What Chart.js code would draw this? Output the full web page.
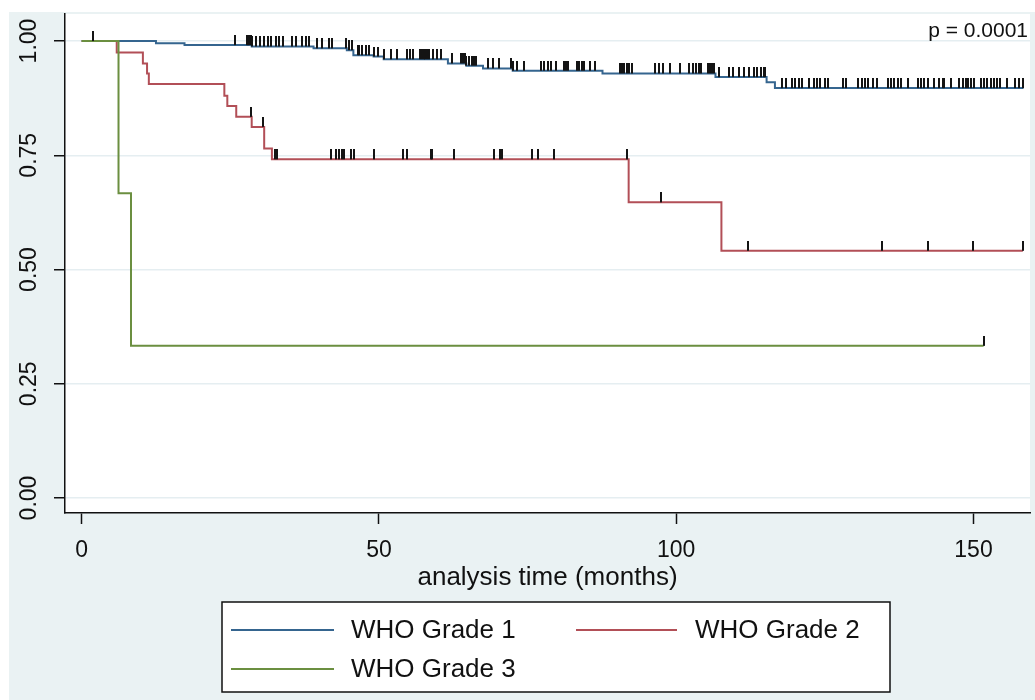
<!DOCTYPE html>
<html>
<head>
<meta charset="utf-8">
<title>Kaplan-Meier survival by WHO grade</title>
<script src="https://cdn.jsdelivr.net/npm/chart.js@4.4.1/dist/chart.umd.min.js"></script>
<style>
  html, body { margin: 0; padding: 0; background: #ffffff; }
  #wrap { width: 1035px; height: 700px; position: relative; }
</style>
</head>
<body>
<div id="wrap"><canvas id="km" width="1035" height="700"></canvas></div>
<script>
// ---- data ----------------------------------------------------------------
const groupLabels = ['WHO Grade 1', 'WHO Grade 2', 'WHO Grade 3'];
const xTicks = [0, 50, 100, 150];
const yTicks = [0, 0.25, 0.5, 0.75, 1];
const yTickLabels = ['0.00', '0.25', '0.50', '0.75', '1.00'];
const pValueText = 'p = 0.0001';
const xTitle = 'analysis time (months)';

// Kaplan-Meier step points: time (months) and survival after the step
const g1Time = [0, 12.5, 17.3, 28.6, 39.0, 44.6, 45.7, 49.1, 50.8, 61.6, 64.7, 67.5, 72.5, 87.6, 106.6, 115.2, 116.6, 158.4];
const g1Surv = [1.0, 0.995, 0.991, 0.988, 0.984, 0.980, 0.969, 0.966, 0.960, 0.951, 0.946, 0.940, 0.935, 0.929, 0.921, 0.910, 0.897, 0.897];

const g2Time = [0, 5.9, 10.3, 11.0, 11.3, 24.0, 24.5, 26.0, 28.6, 30.7, 32.0, 92.0, 107.6, 158.3];
const g2Surv = [1.0, 0.975, 0.951, 0.929, 0.906, 0.880, 0.858, 0.834, 0.812, 0.765, 0.741, 0.647, 0.541, 0.541];

const g3Time = [0, 6.2, 8.3, 151.7];
const g3Surv = [1.0, 0.667, 0.333, 0.333];

// censored observations (months)
const g1Censor = [1.9, 25.8, 27.8, 28.0, 28.2, 28.4, 28.6, 29.4, 30.0, 30.7, 31.3, 31.9, 32.7, 33.2, 33.8,
  35.4, 36.0, 37.1, 37.7, 38.2, 39.6, 40.5, 41.6, 42.1, 44.4, 44.9, 45.4, 46.4, 46.7, 47.1, 47.9, 48.4,
  49.1, 49.9, 50.8, 52.1, 53.0, 54.8, 55.2, 55.8, 56.9, 57.2, 57.5, 57.8, 58.0, 58.5, 59.1, 59.7, 60.5,
  62.3, 63.8, 64.1, 64.4, 64.7, 65.2, 65.6, 66.0, 66.4, 68.3, 69.1, 70.2, 72.2, 72.6, 73.3, 74.4, 77.2,
  77.7, 78.4, 78.9, 79.7, 81.1, 81.4, 81.8, 83.3, 83.7, 84.1, 84.5, 85.5, 86.4, 90.5, 90.9, 91.3, 91.7,
  92.1, 92.5, 96.5, 97.1, 97.8, 98.9, 100.7, 102.2, 102.8, 103.4, 103.8, 104.2, 105.3, 105.6, 106.0,
  106.3, 107.2, 108.9, 109.5, 110.6, 111.4, 112.2, 113.1, 113.6, 114.2, 114.7, 115.0, 117.8, 118.4,
  119.5, 120.0, 120.6, 121.1, 122.3, 123.1, 123.6, 124.2, 125.0, 125.6, 128.1, 128.5, 130.6, 131.2,
  131.7, 132.3, 133.1, 133.7, 135.6, 136.2, 136.7, 137.3, 137.8, 138.9, 140.6, 141.2, 141.7, 142.3,
  143.4, 144.2, 144.8, 145.1, 146.2, 147.6, 148.2, 148.7, 149.0, 149.5, 150.1, 151.2, 151.8, 152.3,
  152.9, 153.4, 154.0, 154.5, 155.6, 157.0, 157.6, 158.4];
const g2Censor = [28.4, 30.5, 32.5, 32.8, 41.9, 42.8, 43.3, 43.8, 44.2, 45.3, 45.8, 49.2, 54.0, 54.8,
  58.7, 58.9, 62.7, 69.3, 70.4, 70.7, 75.8, 76.7, 79.5, 91.7, 97.4, 112.1, 134.6, 142.4, 149.9, 158.3];
const g3Censor = [151.7];

// ---- helpers -------------------------------------------------------------
function levelAt(times, surv, t) {
  let s = surv[0];
  for (let i = 0; i < times.length; i++) { if (times[i] <= t) s = surv[i]; }
  return s;
}
const stepPoints = (times, surv) => times.map((t, i) => ({ x: t, y: surv[i] }));
const censorPoints = (c, times, surv) => c.map(t => ({ x: t, y: levelAt(times, surv, t) }));

// small vertical censor mark that rises above the curve
const tickMark = (() => {
  const c = document.createElement('canvas');
  c.width = 2; c.height = 20;
  const g = c.getContext('2d');
  g.fillStyle = '#141414';
  g.fillRect(0, 0, 2, 10);
  return c;
})();

const colors = ['#35658f', '#b24f57', '#6b8f40'];
const FONT = '"Liberation Sans", Arial, Helvetica, sans-serif';

// ---- plugins: background panels, rotated y labels, p-value, legend --------
const frame = {
  id: 'frame',
  beforeDraw(chart) {
    const { ctx, chartArea: a, width, height } = chart;
    ctx.save();
    ctx.fillStyle = '#ffffff';
    ctx.fillRect(0, 0, width, height);
    ctx.fillStyle = '#eaf2f3';
    ctx.fillRect(9, 12, width - 9, height - 12);
    ctx.fillStyle = '#ffffff';
    ctx.fillRect(a.left, a.top, a.right - a.left, a.bottom - a.top);
    ctx.restore();
  },
  afterDraw(chart) {
    const { ctx } = chart;
    const ys = chart.scales.y;
    ctx.save();
    ctx.fillStyle = '#111111';
    ctx.font = '23px ' + FONT;
    ctx.textAlign = 'center';
    ctx.textBaseline = 'alphabetic';
    yTicks.forEach((v, i) => {
      const py = ys.getPixelForValue(v);
      ctx.save();
      ctx.translate(36, py);
      ctx.rotate(-Math.PI / 2);
      ctx.fillText(yTickLabels[i], 0, 0);
      ctx.restore();
    });

    ctx.font = '21px ' + FONT;
    ctx.textAlign = 'right';
    ctx.fillText(pValueText, 1028, 37);

    // legend
    const bx = 222, by = 602, bw = 668, bh = 90;
    ctx.fillStyle = '#ffffff';
    ctx.fillRect(bx, by, bw, bh);
    ctx.strokeStyle = '#111111';
    ctx.lineWidth = 1.5;
    ctx.strokeRect(bx, by, bw, bh);
    const slots = [
      { x0: 231, x1: 334, tx: 351, y: 630 },
      { x0: 576, x1: 677, tx: 695, y: 630 },
      { x0: 231, x1: 334, tx: 351, y: 669 }
    ];
    ctx.font = '26px ' + FONT;
    ctx.textAlign = 'left';
    ctx.textBaseline = 'middle';
    slots.forEach((s, i) => {
      ctx.strokeStyle = colors[i];
      ctx.lineWidth = 2;
      ctx.beginPath();
      ctx.moveTo(s.x0, s.y);
      ctx.lineTo(s.x1, s.y);
      ctx.stroke();
      ctx.fillStyle = '#111111';
      ctx.fillText(groupLabels[i], s.tx, s.y + 1);
    });
    ctx.restore();
  }
};

// ---- chart ---------------------------------------------------------------
const curves = [
  [g1Time, g1Surv, g1Censor],
  [g2Time, g2Surv, g2Censor],
  [g3Time, g3Surv, g3Censor]
];
const lineOrder = [3, 2, 1];
const datasets = [];
curves.forEach(([t, s, c], i) => {
  datasets.push({
    type: 'line',
    label: groupLabels[i],
    data: stepPoints(t, s),
    stepped: true,
    borderColor: colors[i],
    borderWidth: 2,
    pointRadius: 0,
    fill: false,
    order: lineOrder[i]
  });
  datasets.push({
    type: 'scatter',
    label: groupLabels[i] + ' (censored)',
    data: censorPoints(c, t, s),
    pointStyle: tickMark,
    order: 0
  });
});

new Chart(document.getElementById('km'), {
  data: { datasets },
  plugins: [frame],
  options: {
    responsive: false,
    animation: false,
    devicePixelRatio: 1,
    events: [],
    layout: { padding: { left: 0, right: 0, top: 14, bottom: 107 } },
    plugins: { legend: { display: false }, tooltip: { enabled: false } },
    scales: {
      x: {
        type: 'linear',
        min: -2.8,
        max: 159.5,
        afterBuildTicks: s => { s.ticks = xTicks.map(v => ({ value: v })); },
        afterFit: s => { s.height = 80; },
        grid: { drawOnChartArea: false, drawTicks: true, tickLength: 11, tickColor: '#111111', tickWidth: 1.5 },
        border: { display: true, color: '#111111', width: 1.5 },
        ticks: { color: '#111111', padding: 13, maxRotation: 0, font: { size: 23, family: FONT } },
        title: { display: true, text: xTitle, color: '#111111', padding: { top: 0, bottom: 0 }, font: { size: 26, family: FONT } }
      },
      y: {
        type: 'linear',
        min: -0.0328,
        max: 1.0591,
        afterBuildTicks: s => { s.ticks = yTicks.map(v => ({ value: v })); },
        afterFit: s => { s.width = 65; },
        grid: { color: '#e5eef1', lineWidth: 1.5, drawTicks: true, tickLength: 11, tickColor: '#111111', tickWidth: 1.5 },
        border: { display: true, color: '#111111', width: 1.5 },
        ticks: { display: false }
      }
    }
  }
});
</script>
</body>
</html>
